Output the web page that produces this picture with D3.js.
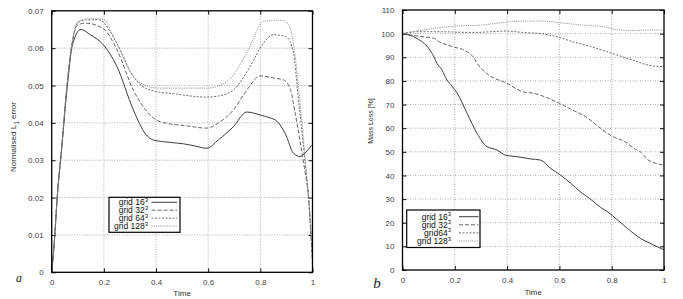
<!DOCTYPE html>
<html><head><meta charset="utf-8">
<script src="https://cdn.jsdelivr.net/npm/d3@7"></script>
<style>
html,body{margin:0;padding:0;background:#fff;}
svg{display:block;font-family:"Liberation Sans",Arial,sans-serif;}
</style></head>
<body>
<svg id="chart" width="683" height="299"></svg>
<script>
// ---------- data ----------
const seriesNames = ["grid 16", "grid 32", "grid 64", "grid 128"];
const seriesNamesB = ["grid 16", "grid 32", "grid64", "grid 128"];
const xTicks = [0, 0.2, 0.4, 0.6, 0.8, 1];
const xTickLabels = ["0", "0.2", "0.4", "0.6", "0.8", "1"];
const errTicks = [0, 0.01, 0.02, 0.03, 0.04, 0.05, 0.06, 0.07];
const errTickLabels = ["0", "0.01", "0.02", "0.03", "0.04", "0.05", "0.06", "0.07"];
const massTicks = [0, 10, 20, 30, 40, 50, 60, 70, 80, 90, 100, 110];

// panel a: normalised L1 error vs time  [time, error]
const errGrid16 = [[0,0],[0.012,0.010],[0.02,0.019],[0.038,0.033],[0.06,0.050],[0.08,0.061],[0.112,0.065],[0.15,0.0635],[0.198,0.0609],[0.25,0.0551],[0.313,0.0435],[0.36,0.037],[0.39,0.0354],[0.45,0.0348],[0.505,0.0344],[0.55,0.0338],[0.594,0.0332],[0.64,0.0355],[0.697,0.039],[0.748,0.0429],[0.8,0.0421],[0.838,0.0413],[0.863,0.0405],[0.895,0.0372],[0.927,0.0319],[0.952,0.031],[0.975,0.0322],[0.997,0.034]];
const errGrid32 = [[0,0],[0.012,0.010],[0.02,0.019],[0.038,0.033],[0.06,0.051],[0.08,0.062],[0.1,0.0662],[0.13,0.0667],[0.2,0.0651],[0.25,0.0596],[0.313,0.0488],[0.36,0.0435],[0.416,0.0403],[0.518,0.0392],[0.594,0.0386],[0.64,0.040],[0.697,0.0435],[0.75,0.049],[0.8,0.0526],[0.85,0.052],[0.889,0.0515],[0.915,0.049],[0.935,0.042],[0.955,0.034],[0.972,0.0265],[0.985,0.0203],[0.997,0.006],[1,0.002]];
const errGrid64 = [[0,0],[0.012,0.010],[0.02,0.019],[0.038,0.033],[0.06,0.051],[0.08,0.062],[0.1,0.0668],[0.13,0.0675],[0.18,0.0676],[0.25,0.0613],[0.313,0.0524],[0.376,0.0488],[0.478,0.0477],[0.594,0.0469],[0.64,0.0472],[0.697,0.0488],[0.76,0.055],[0.811,0.0613],[0.85,0.0636],[0.9,0.063],[0.927,0.0587],[0.945,0.047],[0.965,0.034],[0.985,0.019],[1,0.004]];
const errGrid128 = [[0,0],[0.012,0.010],[0.02,0.019],[0.038,0.033],[0.06,0.051],[0.08,0.062],[0.1,0.0672],[0.15,0.0679],[0.2,0.0677],[0.237,0.0631],[0.313,0.0524],[0.364,0.0499],[0.416,0.0493],[0.5,0.0493],[0.594,0.0493],[0.672,0.051],[0.748,0.0587],[0.811,0.0671],[0.85,0.0675],[0.889,0.0674],[0.91,0.066],[0.927,0.0613],[0.95,0.047],[0.97,0.032],[0.99,0.016],[1,0.006]];

// panel b: mass loss [%] vs time  [time, mass]
const massGrid16 = [[0,100],[0.055,98],[0.1,93.8],[0.12,90.2],[0.132,87.4],[0.151,84.6],[0.17,80.4],[0.189,77.8],[0.209,74.8],[0.247,66.3],[0.285,57.8],[0.323,52.2],[0.361,50.8],[0.393,48.6],[0.44,47.9],[0.49,47],[0.528,46.5],[0.566,43],[0.604,40.2],[0.643,36.7],[0.68,33.1],[0.72,29.9],[0.757,26.5],[0.783,24.7],[0.822,21.2],[0.86,17.6],[0.91,13.4],[0.96,10.6],[1,8.5]];
const massGrid32 = [[0,100],[0.055,99],[0.12,98],[0.14,96.6],[0.19,94.5],[0.24,92.8],[0.27,90.2],[0.29,86.7],[0.33,82.5],[0.4,79],[0.46,75.4],[0.5,74.8],[0.55,73],[0.6,70.5],[0.65,67.7],[0.7,64.9],[0.75,60.6],[0.8,56.7],[0.85,54.3],[0.895,50.8],[0.91,50],[0.94,46.5],[1,44.4]];
const massGrid64 = [[0,100],[0.055,100.8],[0.14,100.8],[0.27,100.5],[0.4,101.1],[0.46,100.5],[0.53,100],[0.59,98.7],[0.65,96.6],[0.72,94.5],[0.8,91.7],[0.88,88.8],[0.94,86.7],[1,86]];
const massGrid128 = [[0,100],[0.077,101.5],[0.2,103.2],[0.3,103.6],[0.36,104.4],[0.46,105.3],[0.53,105.3],[0.6,104.6],[0.69,103.6],[0.77,102.9],[0.83,101.5],[0.87,101.3],[0.94,101.5],[1,101.5]];

// ---------- drawing ----------
const svg = d3.select("#chart");
const styles = [
  {stroke:"#333", dash:null, w:0.95},
  {stroke:"#555", dash:"4,2", w:0.9},
  {stroke:"#5e5e5e", dash:"2,1.5", w:0.9},
  {stroke:"#8e8e8e", dash:"1.2,1", w:0.9}
];

function panel(cfg){
  const g = svg.append("g");
  const x = d3.scaleLinear().domain([0,1]).range([cfg.x0, cfg.x1]);
  const y = d3.scaleLinear().domain(cfg.yDomain).range([cfg.yb, cfg.yt]);
  // grid
  g.append("g").selectAll("line").data(xTicks.slice(1,-1)).join("line")
    .attr("x1",d=>x(d)).attr("x2",d=>x(d)).attr("y1",cfg.yb).attr("y2",cfg.yt)
    .attr("stroke","#9a9a9a").attr("stroke-width",0.8).attr("stroke-dasharray","1,1.5");
  g.append("g").selectAll("line").data(cfg.yTicks.slice(1,-1)).join("line")
    .attr("x1",cfg.x0).attr("x2",cfg.x1).attr("y1",d=>y(d)).attr("y2",d=>y(d))
    .attr("stroke","#9a9a9a").attr("stroke-width",0.8).attr("stroke-dasharray","1,1.5");
  // axes (inward ticks, mirrored)
  const tl = 4;
  const axB = d3.axisBottom(x).tickValues(xTicks).tickSize(-tl).tickFormat((d,i)=>xTickLabels[i]).tickPadding(7);
  const axT = d3.axisTop(x).tickValues(xTicks).tickSize(-tl).tickFormat("");
  const axL = d3.axisLeft(y).tickValues(cfg.yTicks).tickSize(-tl).tickFormat((d,i)=>cfg.yLabels[i]).tickPadding(8);
  const axR = d3.axisRight(y).tickValues(cfg.yTicks).tickSize(-tl).tickFormat("");
  const gb = g.append("g").attr("transform",`translate(0,${cfg.yb})`).call(axB);
  g.append("g").attr("transform",`translate(0,${cfg.yt})`).call(axT);
  const gl = g.append("g").attr("transform",`translate(${cfg.x0},0)`).call(axL);
  g.append("g").attr("transform",`translate(${cfg.x1},0)`).call(axR);
  g.selectAll(".domain").remove();
  g.selectAll(".tick line").attr("stroke","#111").attr("stroke-width",1);
  gb.selectAll("text").attr("font-size",8).attr("fill","#444").attr("font-family","Liberation Sans");
  gl.selectAll("text").attr("font-size",8).attr("fill","#444").attr("font-family","Liberation Sans");
  // lines
  const line = d3.line().x(d=>x(d[0])).y(d=>y(d[1])).curve(d3.curveMonotoneX);
  cfg.series.forEach((s,i)=>{
    g.append("path").datum(s).attr("d",line).attr("fill","none")
      .attr("stroke",styles[i].stroke).attr("stroke-width",styles[i].w)
      .attr("stroke-dasharray",styles[i].dash);
  });
  // frame
  g.append("rect").attr("x",cfg.x0).attr("y",cfg.yt).attr("width",cfg.x1-cfg.x0).attr("height",cfg.yb-cfg.yt)
    .attr("fill","none").attr("stroke","#000").attr("stroke-width",1.3);
  // x label
  g.append("text").attr("x",(cfg.x0+cfg.x1)/2).attr("y",cfg.timeY).attr("text-anchor","middle")
    .attr("font-size",8).attr("fill","#333").text("Time");
  // legend
  const L = cfg.legend;
  g.append("rect").attr("x",L.x).attr("y",L.y).attr("width",L.w).attr("height",L.h)
    .attr("fill","#fff").attr("stroke","#000").attr("stroke-width",1.2);
  cfg.names.forEach((n,i)=>{
    const ly = L.y + L.first + i*L.step;
    const t = g.append("text").attr("x",L.textX).attr("y",ly+3).attr("text-anchor","end")
      .attr("font-size",8.5).attr("fill","#111");
    t.append("tspan").text(n);
    t.append("tspan").attr("dy",-3.5).attr("font-size",6).text("3");
    g.append("line").attr("x1",L.lx1).attr("x2",L.lx2).attr("y1",ly).attr("y2",ly)
      .attr("stroke",styles[i].stroke).attr("stroke-width",styles[i].w)
      .attr("stroke-dasharray",styles[i].dash);
  });
  return {x,y};
}

panel({
  x0:51.7, x1:312.5, yt:10.8, yb:272.3, yDomain:[0,0.07],
  yTicks:errTicks, yLabels:errTickLabels,
  series:[errGrid16, errGrid32, errGrid64, errGrid128], names:seriesNames,
  timeY:296,
  legend:{x:109, y:197.3, w:71, h:35, first:5, step:7.9, textX:148, lx1:151.5, lx2:177}
});
panel({
  x0:402.5, x1:664, yt:10, yb:270, yDomain:[0,110],
  yTicks:massTicks, yLabels:massTicks.map(String),
  series:[massGrid16, massGrid32, massGrid64, massGrid128], names:seriesNamesB,
  timeY:295,
  legend:{x:406.7, y:210, w:73.3, h:37.5, first:6.7, step:8.1, textX:451, lx1:459, lx2:478.5}
});

// y-axis titles
const ta = svg.append("text").attr("transform","translate(16,137) rotate(-90)")
  .attr("text-anchor","middle").attr("font-size",8).attr("fill","#333");
ta.append("tspan").text("Normalised L");
ta.append("tspan").attr("dy",2.5).attr("font-size",6.5).text("1");
ta.append("tspan").attr("dy",-2.5).text(" error");
svg.append("text").attr("transform","translate(372.5,121) rotate(-90)")
  .attr("text-anchor","middle").attr("font-size",7).attr("fill","#333").text("Mass Loss [%]");

// panel letters
svg.append("text").attr("x",19).attr("y",282).attr("text-anchor","middle")
  .attr("font-family","Liberation Serif").attr("font-style","italic").attr("font-size",12).attr("fill","#222").text("a");
svg.append("text").attr("x",377).attr("y",288).attr("text-anchor","middle")
  .attr("font-family","Liberation Serif").attr("font-style","italic").attr("font-size",15).attr("fill","#222").text("b");
</script>
</body></html>
